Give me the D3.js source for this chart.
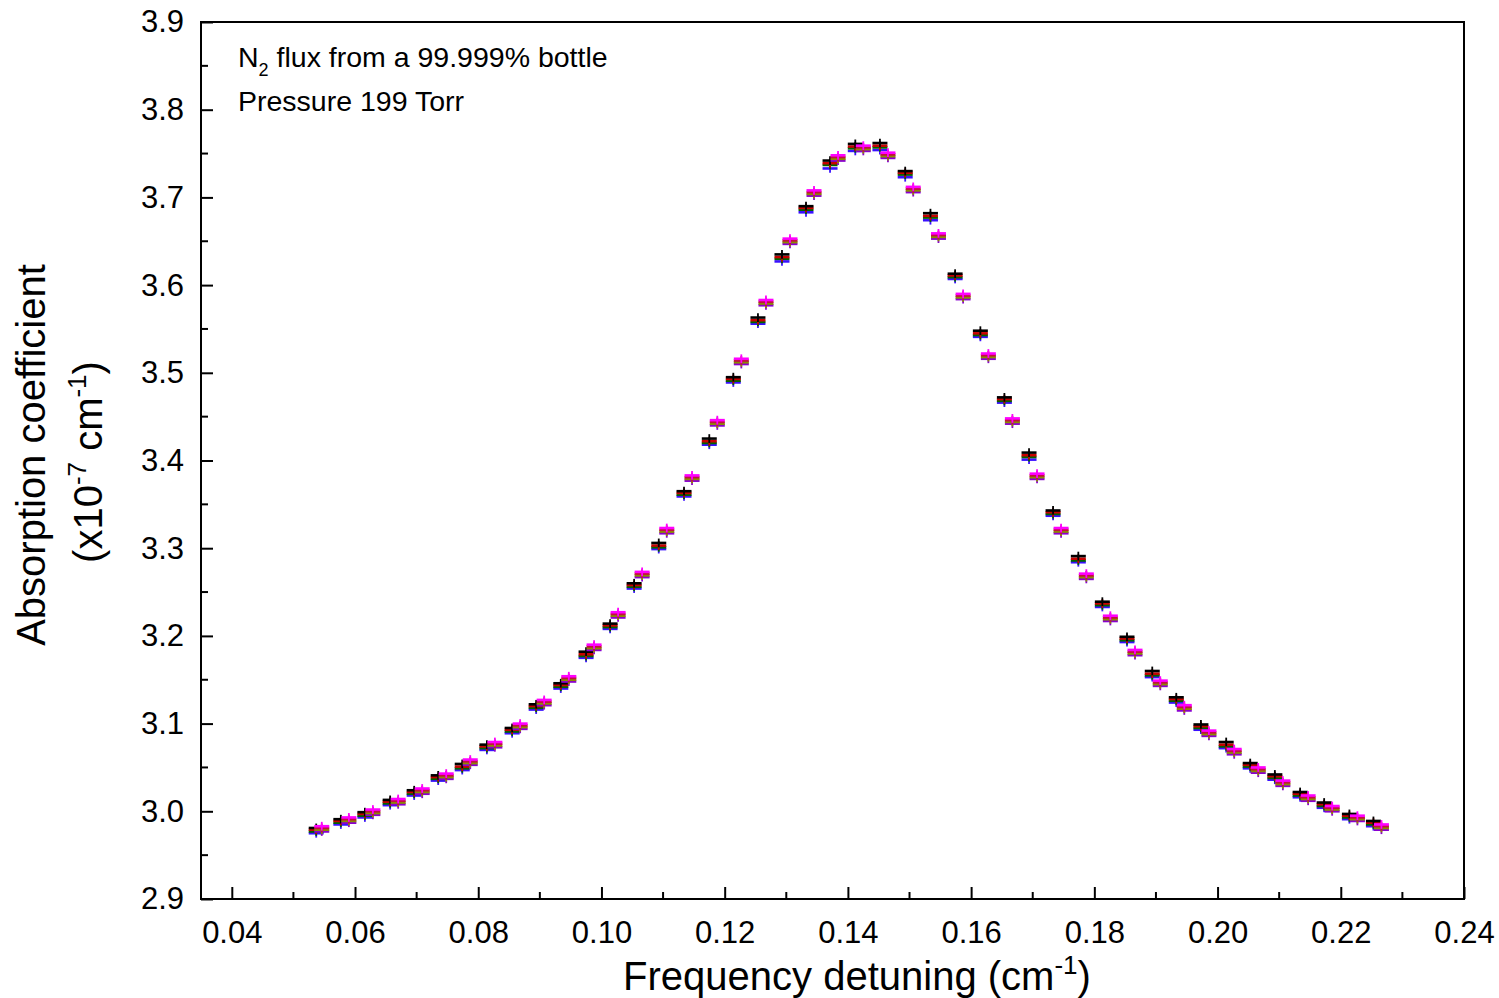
<!DOCTYPE html>
<html>
<head>
<meta charset="utf-8">
<script src="https://cdn.jsdelivr.net/npm/d3@7"></script>
<style>
  html, body { margin: 0; padding: 0; background: #fff; }
  svg { display: block; font-family: "Liberation Sans", Arial, sans-serif; }
</style>
</head>
<body>
<svg id="chart" width="1499" height="998"></svg>
<script>
// ---------------- data ----------------
const xTicks = [0.04, 0.06, 0.08, 0.10, 0.12, 0.14, 0.16, 0.18, 0.20, 0.22, 0.24];
const xTickLabels = ["0.04", "0.06", "0.08", "0.10", "0.12", "0.14", "0.16", "0.18", "0.20", "0.22", "0.24"];
const yTicks = [2.9, 3.0, 3.1, 3.2, 3.3, 3.4, 3.5, 3.6, 3.7, 3.8, 3.9];
const yTickLabels = ["2.9", "3.0", "3.1", "3.2", "3.3", "3.4", "3.5", "3.6", "3.7", "3.8", "3.9"];

// frequency detuning of the two interleaved scan grids (cm^-1)
const freqA = [0.0537,0.0577,0.0616,0.0657,0.0696,0.0735,0.0774,0.0814,0.0855,0.0894,0.0934,0.0975,0.1014,0.1053,0.1093,0.1134,0.1175,0.1214,0.1254,0.1293,0.1332,0.1371,0.1412,0.1452,0.1493,0.1534,0.1574,0.1615,0.1654,0.1694,0.1733,0.1774,0.1813,0.1853,0.1894,0.1933,0.1973,0.2014,0.2053,0.2093,0.2134,0.2173,0.2214,0.2253];
const freqB = [0.0546,0.0590,0.0629,0.0670,0.0709,0.0748,0.0787,0.0827,0.0868,0.0907,0.0947,0.0988,0.1027,0.1066,0.1106,0.1147,0.1188,0.1227,0.1267,0.1306,0.1345,0.1384,0.1425,0.1465,0.1506,0.1547,0.1587,0.1628,0.1667,0.1707,0.1746,0.1787,0.1826,0.1866,0.1907,0.1946,0.1986,0.2027,0.2066,0.2106,0.2147,0.2186,0.2227,0.2266];

// absorption coefficient (x1e-7 cm^-1), grid A series
const seriesBlack = [2.981,2.991,2.999,3.013,3.024,3.041,3.054,3.076,3.095,3.122,3.146,3.182,3.214,3.260,3.306,3.365,3.425,3.495,3.563,3.635,3.690,3.742,3.761,3.762,3.730,3.682,3.613,3.548,3.472,3.409,3.343,3.291,3.239,3.199,3.160,3.130,3.099,3.079,3.055,3.042,3.022,3.010,2.997,2.989];
const seriesRed   = [2.979,2.989,2.997,3.011,3.022,3.039,3.051,3.074,3.093,3.120,3.144,3.179,3.212,3.258,3.303,3.363,3.422,3.493,3.560,3.632,3.688,3.739,3.758,3.759,3.728,3.679,3.611,3.545,3.470,3.406,3.341,3.288,3.237,3.197,3.157,3.128,3.097,3.076,3.053,3.040,3.020,3.008,2.995,2.987];
const seriesGreen = [2.977,2.987,2.995,3.009,3.020,3.037,3.049,3.072,3.091,3.118,3.142,3.177,3.210,3.256,3.301,3.361,3.420,3.491,3.558,3.630,3.686,3.737,3.756,3.757,3.726,3.677,3.609,3.543,3.468,3.404,3.339,3.286,3.235,3.195,3.155,3.126,3.095,3.074,3.051,3.038,3.018,3.006,2.993,2.985];
const seriesBlue  = [2.975,2.985,2.993,3.007,3.018,3.035,3.047,3.070,3.089,3.116,3.140,3.175,3.208,3.254,3.299,3.359,3.418,3.489,3.556,3.627,3.683,3.733,3.753,3.754,3.723,3.674,3.607,3.541,3.466,3.401,3.337,3.284,3.233,3.193,3.153,3.124,3.093,3.072,3.049,3.036,3.016,3.004,2.991,2.983];
// grid B series
const seriesMagenta = [2.983,2.993,3.002,3.014,3.026,3.043,3.059,3.079,3.100,3.127,3.154,3.190,3.227,3.273,3.323,3.383,3.446,3.516,3.583,3.653,3.708,3.748,3.759,3.751,3.712,3.659,3.590,3.522,3.448,3.385,3.323,3.271,3.223,3.184,3.149,3.121,3.092,3.071,3.050,3.035,3.018,3.006,2.995,2.985];
const seriesWine    = [2.981,2.991,3.000,3.012,3.024,3.041,3.057,3.077,3.098,3.125,3.152,3.188,3.225,3.271,3.321,3.381,3.444,3.514,3.581,3.651,3.706,3.746,3.757,3.749,3.710,3.657,3.588,3.520,3.446,3.383,3.321,3.269,3.221,3.182,3.147,3.119,3.090,3.069,3.048,3.033,3.016,3.004,2.993,2.983];
const seriesOlive   = [2.979,2.989,2.998,3.010,3.022,3.039,3.055,3.075,3.096,3.123,3.150,3.186,3.223,3.269,3.319,3.379,3.442,3.512,3.579,3.649,3.704,3.744,3.755,3.747,3.708,3.655,3.586,3.518,3.444,3.381,3.319,3.267,3.219,3.180,3.145,3.117,3.088,3.067,3.046,3.031,3.014,3.002,2.991,2.981];
const seriesPurple  = [2.977,2.987,2.996,3.008,3.020,3.037,3.053,3.073,3.094,3.121,3.148,3.184,3.221,3.267,3.317,3.377,3.440,3.510,3.577,3.647,3.702,3.742,3.753,3.745,3.706,3.653,3.584,3.516,3.442,3.379,3.317,3.265,3.217,3.178,3.143,3.115,3.086,3.065,3.044,3.029,3.012,3.000,2.989,2.979];
const yError = 0.005;

const seriesList = [
  { freq: freqA, values: seriesBlue,    color: "#3a10ff" },
  { freq: freqA, values: seriesGreen,   color: "#006400" },
  { freq: freqA, values: seriesRed,     color: "#c80000" },
  { freq: freqA, values: seriesBlack,   color: "#000000" },
  { freq: freqB, values: seriesPurple,  color: "#8a00d0" },
  { freq: freqB, values: seriesOlive,   color: "#8c8c00" },
  { freq: freqB, values: seriesWine,    color: "#c01040" },
  { freq: freqB, values: seriesMagenta, color: "#ff00ff" }
];

// ---------------- layout ----------------
const svg = d3.select("#chart");
const pLeft = 201, pRight = 1464, pTop = 22, pBottom = 899;

const x = d3.scaleLinear().domain([0.035, 0.24]).range([pLeft, pRight]);
const y = d3.scaleLinear().domain([2.9, 3.9]).range([pBottom, pTop]);

// data markers: horizontal bar + vertical error bar
const g = svg.append("g");
seriesList.forEach(s => {
  const pts = s.freq.map((f, i) => ({ f, v: s.values[i] }));
  const grp = g.append("g");
  grp.selectAll("line.err").data(pts).enter().append("line")
    .attr("x1", d => x(d.f)).attr("x2", d => x(d.f))
    .attr("y1", d => y(d.v + yError)).attr("y2", d => y(d.v - yError))
    .attr("stroke", s.color).attr("stroke-width", 1.8);
  grp.selectAll("line.bar").data(pts).enter().append("line")
    .attr("x1", d => x(d.f) - 7.5).attr("x2", d => x(d.f) + 7.5)
    .attr("y1", d => y(d.v)).attr("y2", d => y(d.v))
    .attr("stroke", s.color).attr("stroke-width", 2.6);
});

// frame
svg.append("rect")
  .attr("x", pLeft).attr("y", pTop)
  .attr("width", pRight - pLeft).attr("height", pBottom - pTop)
  .attr("fill", "none").attr("stroke", "#000").attr("stroke-width", 2);

// x axis (ticks inward)
const xMinor = d3.range(0.05, 0.24, 0.02);
const xAxis = svg.append("g").attr("transform", `translate(0,${pBottom})`)
  .call(d3.axisBottom(x).tickValues(xTicks).tickSize(-12)
    .tickFormat((d, i) => xTickLabels[i]).tickPadding(22));
xAxis.select(".domain").remove();
xAxis.selectAll(".tick line").attr("stroke-width", 2);
xAxis.selectAll(".tick text").attr("font-size", 31).attr("fill", "#000")
  .attr("font-family", "Liberation Sans, Arial, sans-serif");
svg.append("g").selectAll("line").data(xMinor).enter().append("line")
  .attr("x1", d => x(d)).attr("x2", d => x(d))
  .attr("y1", pBottom).attr("y2", pBottom - 7)
  .attr("stroke", "#000").attr("stroke-width", 2);

// y axis (ticks inward)
const yMinor = d3.range(2.95, 3.9, 0.1);
const yAxis = svg.append("g").attr("transform", `translate(${pLeft},0)`)
  .call(d3.axisLeft(y).tickValues(yTicks).tickSize(-12)
    .tickFormat((d, i) => yTickLabels[i]).tickPadding(17));
yAxis.select(".domain").remove();
yAxis.selectAll(".tick line").attr("stroke-width", 2);
yAxis.selectAll(".tick text").attr("font-size", 31).attr("fill", "#000")
  .attr("font-family", "Liberation Sans, Arial, sans-serif");
svg.append("g").selectAll("line").data(yMinor).enter().append("line")
  .attr("x1", pLeft).attr("x2", pLeft + 7)
  .attr("y1", d => y(d)).attr("y2", d => y(d))
  .attr("stroke", "#000").attr("stroke-width", 2);

// axis titles
const xt = svg.append("text").attr("x", 857).attr("y", 990)
  .attr("text-anchor", "middle").attr("font-size", 40).attr("fill", "#000");
xt.append("tspan").text("Frequency detuning (cm");
xt.append("tspan").attr("dy", -16).attr("font-size", 26).text("-1");
xt.append("tspan").attr("dy", 16).text(")");

svg.append("text")
  .attr("transform", "translate(45,455) rotate(-90)")
  .attr("text-anchor", "middle").attr("font-size", 40).attr("fill", "#000")
  .text("Absorption coefficient");
const yt2 = svg.append("text")
  .attr("transform", "translate(102,462) rotate(-90)")
  .attr("text-anchor", "middle").attr("font-size", 40).attr("fill", "#000");
yt2.append("tspan").text("(x10");
yt2.append("tspan").attr("dy", -16).attr("font-size", 26).text("-7");
yt2.append("tspan").attr("dy", 16).text(" cm");
yt2.append("tspan").attr("dy", -16).attr("font-size", 26).text("-1");
yt2.append("tspan").attr("dy", 16).text(")");

// annotation
const a1 = svg.append("text").attr("x", 238).attr("y", 67)
  .attr("font-size", 28.5).attr("fill", "#000");
a1.append("tspan").text("N");
a1.append("tspan").attr("dy", 9).attr("font-size", 18).text("2");
a1.append("tspan").attr("dy", -9).text(" flux from a 99.999% bottle");
svg.append("text").attr("x", 238).attr("y", 111)
  .attr("font-size", 28.5).attr("fill", "#000").text("Pressure 199 Torr");
</script>
</body>
</html>
